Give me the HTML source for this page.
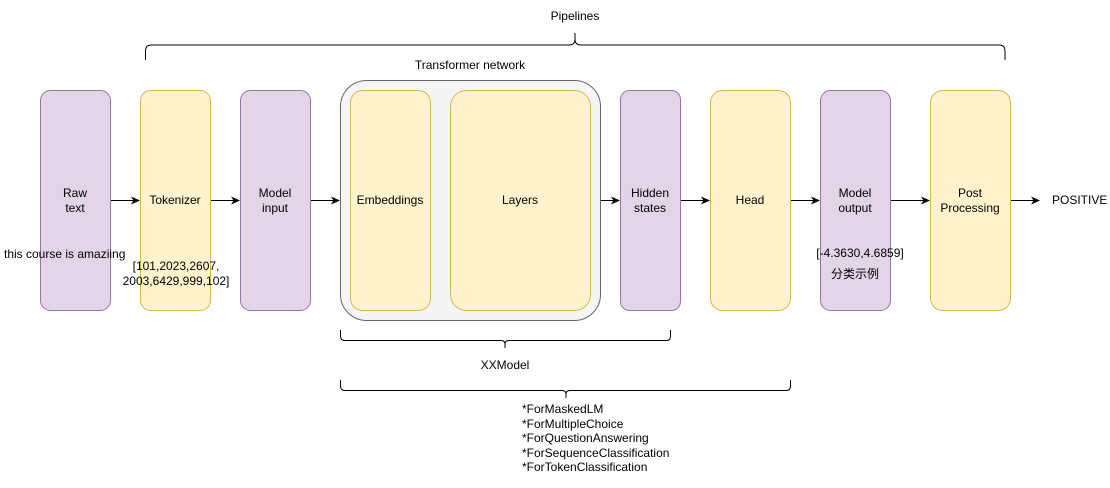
<!DOCTYPE html>
<html><head><meta charset="utf-8"><style>
html,body{margin:0;padding:0;background:#fff;}
svg{display:block;}
text{font-family:"Liberation Sans","Noto Sans CJK SC",sans-serif;font-size:12px;fill:#000;}
</style></head><body>
<svg width="1110" height="488" viewBox="0 0 1110 488" xmlns="http://www.w3.org/2000/svg">
<defs>
<marker id="a" markerWidth="10" markerHeight="10" refX="8" refY="4" orient="auto" markerUnits="userSpaceOnUse">
<path d="M0,0 L9,4 L0,8 L2.5,4 Z" fill="#000"/>
</marker>
</defs>
<path d="M145.5,60 V51 Q145.5,45 151.5,45 H569 Q575,45 575,39 V33 M575,39 Q575,45 581,45 H999 Q1005,45 1005,51 V60" fill="none" stroke="#000" stroke-width="1"/>
<text x="575" y="20" text-anchor="middle">Pipelines</text>
<text x="470" y="69" text-anchor="middle">Transformer network</text>
<rect x="340.5" y="80.5" width="260" height="240" rx="26" fill="#f5f5f5" stroke="#666"/>
<g stroke-width="1">
<rect x="40.5" y="90.5" width="70" height="220" rx="10" fill="#e1d5e7" stroke="#9673a6"/>
<rect x="140.5" y="90.5" width="70" height="220" rx="10" fill="#fff2cc" stroke="#d6b656"/>
<rect x="240.5" y="90.5" width="70" height="220" rx="10" fill="#e1d5e7" stroke="#9673a6"/>
<rect x="350.5" y="90.5" width="80" height="220" rx="12" fill="#fff2cc" stroke="#d6b656"/>
<rect x="450.5" y="90.5" width="140" height="220" rx="16" fill="#fff2cc" stroke="#d6b656"/>
<rect x="620.5" y="90.5" width="60" height="220" rx="9" fill="#e1d5e7" stroke="#9673a6"/>
<rect x="710.5" y="90.5" width="80" height="220" rx="12" fill="#fff2cc" stroke="#d6b656"/>
<rect x="820.5" y="90.5" width="70" height="220" rx="10" fill="#e1d5e7" stroke="#9673a6"/>
<rect x="930.5" y="90.5" width="80" height="220" rx="12" fill="#fff2cc" stroke="#d6b656"/>
</g>
<g stroke="#000" stroke-width="1" marker-end="url(#a)">
<line x1="111" y1="200.5" x2="139" y2="200.5"/>
<line x1="211" y1="200.5" x2="239" y2="200.5"/>
<line x1="311" y1="200.5" x2="339" y2="200.5"/>
<line x1="601" y1="200.5" x2="619" y2="200.5"/>
<line x1="681" y1="200.5" x2="709" y2="200.5"/>
<line x1="791" y1="200.5" x2="819" y2="200.5"/>
<line x1="891" y1="200.5" x2="929" y2="200.5"/>
<line x1="1011" y1="200.5" x2="1039" y2="200.5"/>
</g>
<g text-anchor="middle">
<text x="75" y="197">Raw</text><text x="75" y="212">text</text>
<text x="175" y="204">Tokenizer</text>
<text x="275" y="197">Model</text><text x="275" y="212">input</text>
<text x="390" y="204">Embeddings</text>
<text x="520" y="204">Layers</text>
<text x="650" y="197">Hidden</text><text x="650" y="212">states</text>
<text x="750" y="204">Head</text>
<text x="855" y="197">Model</text><text x="855" y="212">output</text>
<text x="970" y="197">Post</text><text x="970" y="212">Processing</text>
<text x="176" y="270">[101,2023,2607,</text>
<text x="176" y="285">2003,6429,999,102]</text>
<text x="860" y="257">[-4.3630,4.6859]</text>
<text x="855" y="278">分类示例</text>
<text x="505" y="369">XXModel</text>
</g>
<text x="1052" y="204">POSITIVE</text>
<text x="4" y="258">this course is amaziing</text>
<path d="M340.5,330 V336 Q340.5,340.5 345,340.5 H501 Q505,340.5 505,344 V348 M505,344 Q505,340.5 509,340.5 H666 Q670.5,340.5 670.5,336 V330" fill="none" stroke="#000"/>
<path d="M340.5,380 V386 Q340.5,390.5 345,390.5 H562 Q566,390.5 566,394 V398 M566,394 Q566,390.5 570,390.5 H786 Q790.5,390.5 790.5,386 V380" fill="none" stroke="#000"/>
<g>
<text x="522" y="413">*ForMaskedLM</text>
<text x="522" y="428">*ForMultipleChoice</text>
<text x="522" y="442">*ForQuestionAnswering</text>
<text x="522" y="457">*ForSequenceClassification</text>
<text x="522" y="471">*ForTokenClassification</text>
</g>
</svg>
</body></html>
